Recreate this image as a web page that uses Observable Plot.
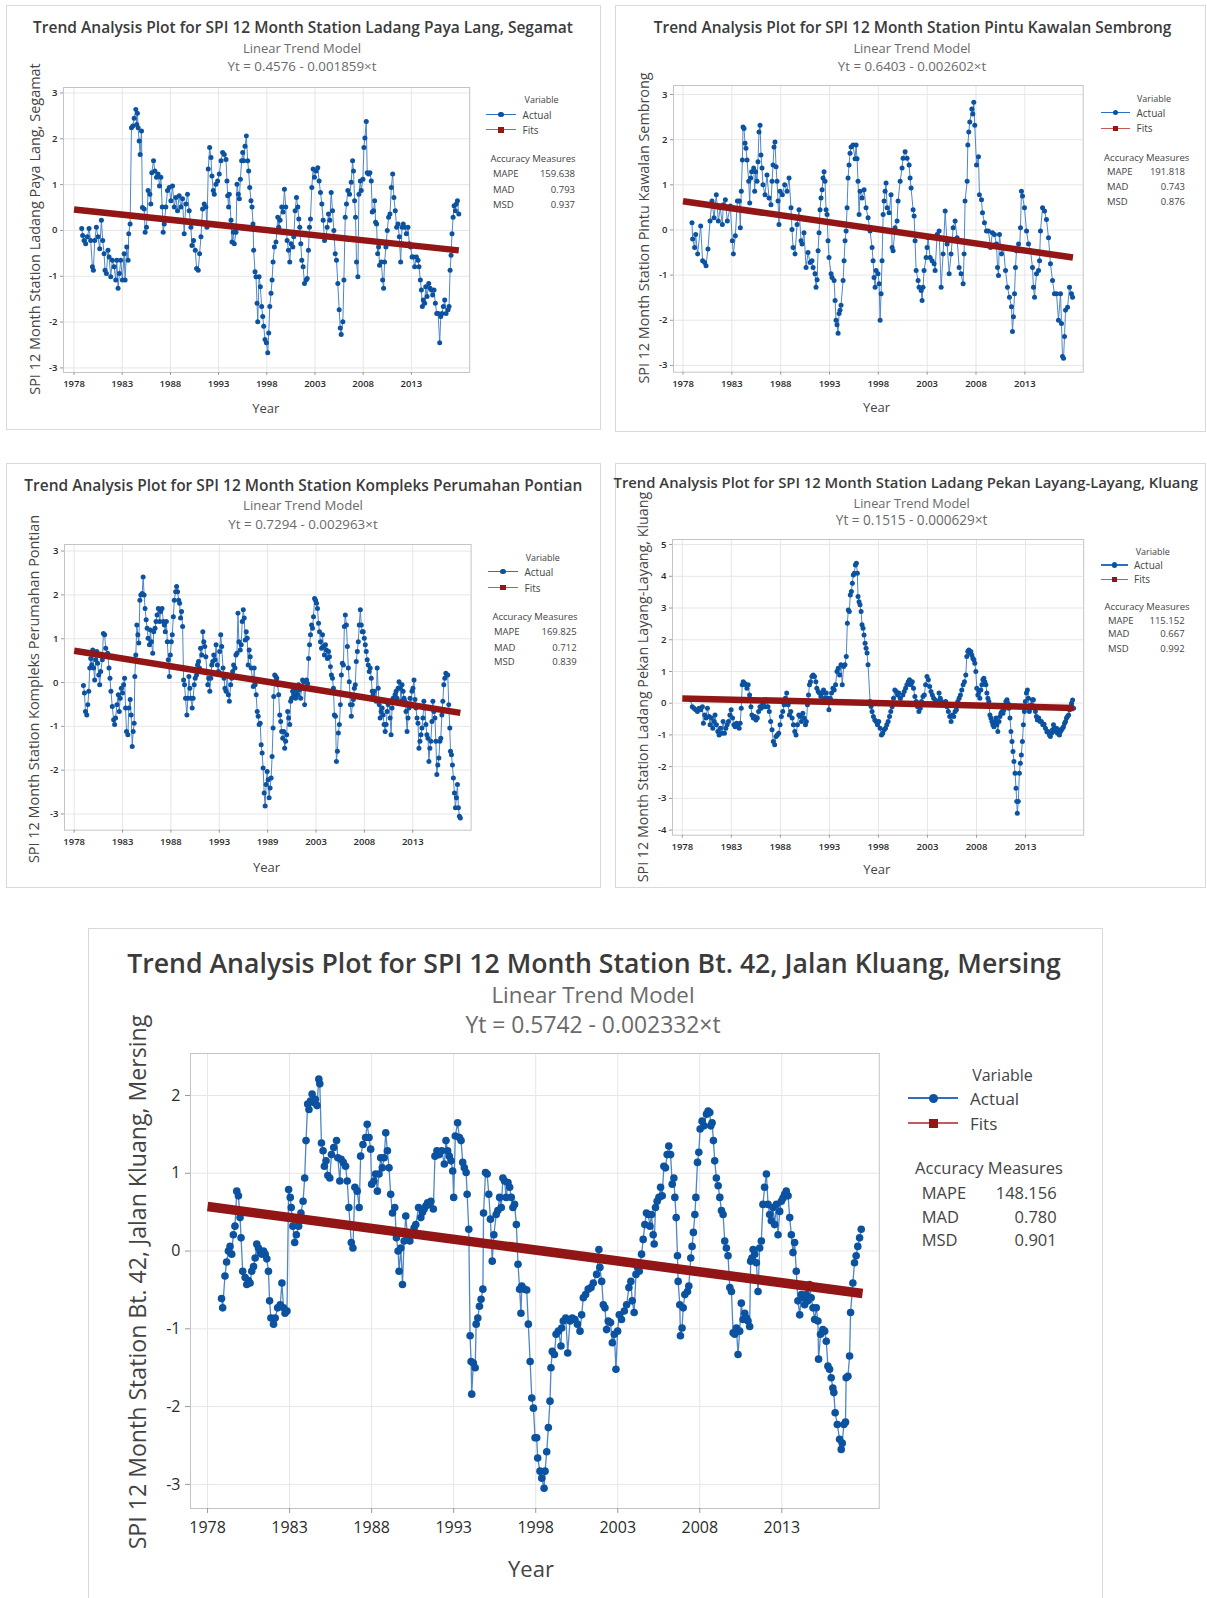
<!DOCTYPE html>
<html><head><meta charset="utf-8">
<script src="https://cdn.jsdelivr.net/npm/d3@7"></script>
<script src="https://cdn.jsdelivr.net/npm/@observablehq/plot@0.6"></script>
<style>
html,body{margin:0;padding:0;background:#fff;}
#page{position:relative;width:1207px;height:1598px;overflow:hidden;font-family:"Open Sans","Noto Sans",sans-serif;}
.t{position:absolute;white-space:nowrap;line-height:1;}
.b{position:absolute;}
</style></head>
<body><div id="page"></div>
<script>
// ---------------- DATA ----------------
const yearTicks = [1978, 1983, 1988, 1993, 1998, 2003, 2008, 2013];
const yearLabels = ["1978","1983","1988","1993","1998","2003","2008","2013"];
const yearLabelsPontian = ["1978","1983","1988","1993","1989","2003","2008","2013"];
const stations = ["Ladang Paya Lang, Segamat","Pintu Kawalan Sembrong","Kompleks Perumahan Pontian","Ladang Pekan Layang-Layang, Kluang","Bt. 42, Jalan Kluang, Mersing"];
const equations = ["Yt = 0.4576 - 0.001859×t","Yt = 0.6403 - 0.002602×t","Yt = 0.7294 - 0.002963×t","Yt = 0.1515 - 0.000629×t","Yt = 0.5742 - 0.002332×t"];
const mape = ["159.638","191.818","169.825","115.152","148.156"];
const mad = ["0.793","0.743","0.712","0.667","0.780"];
const msd = ["0.937","0.876","0.839","0.992","0.901"];
const fitYears = [1978.0, 2017.92];
const fitStart = [0.456, 0.638, 0.726, 0.151, 0.572];
const fitEnd = [-0.435, -0.609, -0.693, -0.150, -0.545];

const payaLang = [[1978.80,0.04],[1978.90,-0.11],[1979.04,-0.22],[1979.21,-0.29],[1979.39,-0.14],[1979.56,0.04],[1979.73,-0.22],[1979.91,-0.79],[1980.01,-0.87],[1980.15,-0.22],[1980.32,0.07],[1980.49,-0.14],[1980.67,-0.40],[1980.84,0.22],[1980.98,-0.22],[1981.12,-0.51],[1981.22,-0.87],[1981.36,-0.94],[1981.53,-0.43],[1981.64,-0.58],[1981.81,-1.01],[1981.98,-0.65],[1982.16,-0.79],[1982.33,-1.08],[1982.44,-0.65],[1982.57,-1.26],[1982.71,-0.94],[1982.85,-0.65],[1983.02,-1.08],[1983.20,-0.51],[1983.30,-1.08],[1983.47,-0.36],[1983.61,-0.65],[1983.68,-0.07],[1983.82,0.14],[1983.96,2.24],[1984.10,2.28],[1984.24,2.45],[1984.41,2.64],[1984.51,2.31],[1984.58,2.56],[1984.65,2.24],[1984.76,1.95],[1984.86,1.66],[1985.00,2.17],[1985.10,0.50],[1985.28,0.47],[1985.38,-0.04],[1985.52,0.07],[1985.69,0.87],[1985.87,0.79],[1985.97,0.58],[1986.07,1.26],[1986.25,1.52],[1986.39,1.30],[1986.56,1.16],[1986.73,1.23],[1986.87,0.97],[1987.01,1.16],[1987.15,0.51],[1987.25,-0.04],[1987.36,0.14],[1987.53,0.51],[1987.70,0.87],[1987.88,0.94],[1988.05,0.65],[1988.22,0.97],[1988.40,0.51],[1988.57,0.72],[1988.74,0.43],[1988.91,0.76],[1989.09,0.51],[1989.26,0.69],[1989.43,-0.07],[1989.61,0.58],[1989.78,0.79],[1989.95,0.43],[1990.13,0.07],[1990.23,-0.33],[1990.40,-0.22],[1990.58,-0.43],[1990.72,-0.83],[1990.89,-0.87],[1991.03,-0.51],[1991.17,-0.14],[1991.34,0.47],[1991.51,0.58],[1991.69,0.51],[1991.79,0.07],[1991.93,1.34],[1992.07,1.81],[1992.21,1.59],[1992.31,1.19],[1992.45,0.87],[1992.55,0.79],[1992.73,1.01],[1992.90,1.08],[1993.07,1.23],[1993.25,1.52],[1993.42,1.70],[1993.59,1.66],[1993.77,1.55],[1993.87,1.08],[1993.94,0.76],[1994.04,0.51],[1994.11,0.79],[1994.29,0.22],[1994.39,-0.25],[1994.53,-0.04],[1994.63,-0.29],[1994.81,-0.04],[1994.91,1.01],[1995.05,0.79],[1995.15,0.69],[1995.26,1.12],[1995.39,1.52],[1995.50,1.70],[1995.60,1.52],[1995.74,1.84],[1995.88,2.06],[1996.02,1.52],[1996.12,1.30],[1996.23,0.94],[1996.36,0.65],[1996.47,0.51],[1996.57,0.14],[1996.64,-0.43],[1996.78,-0.90],[1996.88,-1.01],[1996.99,-1.59],[1997.06,-1.99],[1997.20,-1.01],[1997.33,-1.23],[1997.47,-1.66],[1997.58,-1.88],[1997.68,-2.09],[1997.82,-2.38],[1997.96,-2.45],[1998.10,-2.67],[1998.20,-2.24],[1998.31,-1.66],[1998.44,-1.37],[1998.55,-1.08],[1998.65,-0.69],[1998.79,-0.36],[1998.96,-0.25],[1999.14,0.29],[1999.24,0.07],[1999.38,0.22],[1999.55,0.51],[1999.69,0.40],[1999.83,0.90],[1999.97,0.51],[2000.11,-0.22],[2000.25,-0.43],[2000.38,-0.69],[2000.52,-0.29],[2000.70,-0.36],[2000.80,-0.14],[2000.94,0.43],[2001.08,0.72],[2001.22,0.51],[2001.32,0.25],[2001.42,0.07],[2001.53,-0.29],[2001.63,-0.65],[2001.77,-0.79],[2001.91,-1.16],[2002.08,-1.08],[2002.19,-1.05],[2002.32,-0.43],[2002.43,0.07],[2002.53,0.25],[2002.67,0.94],[2002.81,1.34],[2002.95,1.16],[2003.12,1.30],[2003.29,1.37],[2003.43,1.08],[2003.57,0.83],[2003.71,0.58],[2003.85,0.22],[2003.99,-0.22],[2004.16,-0.14],[2004.26,0.07],[2004.40,0.36],[2004.54,0.22],[2004.68,0.83],[2004.82,0.43],[2004.96,0.00],[2005.10,-0.51],[2005.23,-0.65],[2005.37,-1.16],[2005.51,-1.73],[2005.62,-2.13],[2005.72,-2.27],[2005.89,-1.99],[2006.00,-1.08],[2006.14,0.29],[2006.27,0.58],[2006.41,0.87],[2006.59,0.79],[2006.76,1.05],[2006.90,1.52],[2007.00,1.30],[2007.11,0.65],[2007.21,0.29],[2007.31,-0.69],[2007.45,-1.01],[2007.56,0.79],[2007.70,1.08],[2007.80,0.87],[2007.97,1.12],[2008.08,1.81],[2008.18,2.02],[2008.32,2.38],[2008.42,1.26],[2008.56,1.23],[2008.70,1.26],[2008.84,1.08],[2008.94,0.40],[2009.08,0.43],[2009.19,0.65],[2009.29,0.18],[2009.39,0.14],[2009.50,-0.51],[2009.60,-0.36],[2009.70,-0.76],[2009.88,-0.69],[2010.02,-1.08],[2010.12,-1.26],[2010.22,-0.69],[2010.36,-0.36],[2010.50,0.00],[2010.64,0.29],[2010.78,0.36],[2010.92,0.94],[2011.06,1.23],[2011.19,0.72],[2011.33,0.43],[2011.47,0.07],[2011.61,0.14],[2011.75,-0.14],[2011.89,-0.69],[2012.03,0.07],[2012.16,0.14],[2012.30,0.07],[2012.48,-0.07],[2012.65,0.07],[2012.79,-0.29],[2012.93,-0.36],[2013.07,-0.58],[2013.20,-0.58],[2013.34,-0.79],[2013.52,-0.58],[2013.69,-0.65],[2013.79,-0.79],[2013.93,-1.08],[2014.04,-1.30],[2014.14,-1.66],[2014.24,-1.52],[2014.38,-1.59],[2014.49,-1.23],[2014.63,-1.44],[2014.80,-1.16],[2014.94,-1.26],[2015.08,-1.30],[2015.21,-1.41],[2015.35,-1.30],[2015.49,-1.59],[2015.63,-1.81],[2015.77,-1.81],[2015.94,-2.45],[2016.05,-1.88],[2016.18,-1.81],[2016.32,-1.66],[2016.46,-1.52],[2016.60,-1.81],[2016.81,-1.73],[2016.91,-1.66],[2017.02,-0.87],[2017.12,-0.54],[2017.22,-0.07],[2017.33,0.29],[2017.43,0.54],[2017.57,0.43],[2017.67,0.58],[2017.78,0.65],[2017.92,0.36]];

const pintuKawalan = [[1978.92,0.16],[1978.99,-0.20],[1979.19,-0.39],[1979.30,-0.10],[1979.50,-0.53],[1979.81,0.09],[1980.01,-0.68],[1980.22,-0.72],[1980.36,-0.79],[1980.56,-0.42],[1980.77,0.20],[1980.97,0.64],[1981.18,0.27],[1981.41,0.78],[1981.62,0.20],[1981.82,0.49],[1982.03,0.12],[1982.13,0.56],[1982.34,0.67],[1982.54,0.20],[1982.85,0.53],[1983.05,-0.24],[1983.16,-0.53],[1983.36,-0.13],[1983.57,0.64],[1983.77,0.64],[1983.87,0.05],[1983.97,0.86],[1984.08,1.55],[1984.15,2.28],[1984.25,2.25],[1984.35,1.92],[1984.45,1.81],[1984.56,1.55],[1984.73,1.08],[1984.83,0.60],[1984.93,1.15],[1985.03,1.29],[1985.24,1.37],[1985.34,0.86],[1985.44,1.29],[1985.58,1.08],[1985.68,1.51],[1985.78,2.17],[1985.89,2.32],[1985.99,1.66],[1986.09,1.37],[1986.19,1.00],[1986.40,0.78],[1986.60,1.22],[1986.81,0.71],[1987.01,0.56],[1987.12,1.08],[1987.22,1.44],[1987.32,1.84],[1987.42,1.95],[1987.53,1.40],[1987.63,1.08],[1987.73,0.64],[1987.83,0.12],[1987.94,0.86],[1988.17,0.78],[1988.41,1.00],[1988.65,0.86],[1988.86,1.15],[1989.06,0.49],[1989.16,0.01],[1989.27,-0.39],[1989.47,-0.53],[1989.68,0.12],[1989.88,0.45],[1990.09,-0.24],[1990.19,-0.31],[1990.39,-0.06],[1990.60,-0.83],[1990.80,-0.50],[1991.01,-0.72],[1991.21,-0.68],[1991.32,-0.83],[1991.52,-0.97],[1991.62,-1.27],[1991.73,-1.10],[1991.83,-0.46],[1991.93,-0.06],[1992.03,0.45],[1992.13,0.71],[1992.24,0.89],[1992.34,1.15],[1992.44,1.29],[1992.54,1.08],[1992.65,0.45],[1992.75,0.34],[1992.85,-0.24],[1992.95,-0.61],[1993.16,-0.97],[1993.26,-1.05],[1993.47,-1.12],[1993.57,-1.56],[1993.67,-2.00],[1993.77,-2.10],[1993.88,-2.29],[1993.98,-1.85],[1994.08,-1.78],[1994.18,-1.67],[1994.39,-1.12],[1994.49,-0.68],[1994.59,-0.24],[1994.70,-0.02],[1994.80,0.49],[1994.90,1.15],[1995.00,1.44],[1995.10,1.70],[1995.21,1.84],[1995.41,1.88],[1995.62,1.58],[1995.72,1.88],[1995.82,1.58],[1995.92,1.08],[1996.03,0.34],[1996.13,0.86],[1996.33,0.71],[1996.54,0.89],[1996.74,0.49],[1996.95,0.27],[1997.15,-0.02],[1997.36,-0.39],[1997.46,-0.68],[1997.56,-1.05],[1997.67,-1.27],[1997.77,-0.90],[1997.97,-0.97],[1998.08,-1.19],[1998.18,-2.00],[1998.28,-1.41],[1998.38,-0.68],[1998.49,0.34],[1998.59,0.64],[1998.69,0.86],[1998.79,1.04],[1998.90,0.49],[1999.10,0.38],[1999.30,0.78],[1999.41,-0.39],[1999.51,-0.46],[1999.71,0.05],[1999.92,0.20],[2000.02,0.64],[2000.23,1.08],[2000.43,1.37],[2000.53,1.59],[2000.74,1.73],[2000.94,1.59],[2001.15,1.44],[2001.25,1.15],[2001.35,0.93],[2001.56,0.45],[2001.66,0.31],[2001.76,-0.24],[2001.87,-0.90],[2002.07,-1.12],[2002.17,-1.27],[2002.38,-1.34],[2002.48,-1.56],[2002.58,-1.27],[2002.68,-0.90],[2002.89,-0.61],[2002.99,-0.39],[2003.09,-0.17],[2003.30,-0.61],[2003.50,-0.68],[2003.71,-0.75],[2003.81,-0.90],[2004.02,-0.10],[2004.22,-0.02],[2004.43,-1.27],[2004.63,-0.53],[2004.84,0.42],[2005.04,-0.31],[2005.25,-0.97],[2005.45,-0.53],[2005.66,0.05],[2005.86,0.20],[2006.06,-0.17],[2006.27,-0.83],[2006.47,-0.97],[2006.68,-1.19],[2006.78,-0.53],[2006.88,0.64],[2007.09,1.08],[2007.16,1.88],[2007.26,2.17],[2007.36,2.39],[2007.57,2.68],[2007.67,2.57],[2007.77,2.83],[2007.87,2.32],[2008.05,1.44],[2008.25,1.62],[2008.35,0.78],[2008.56,0.67],[2008.66,0.38],[2008.86,0.16],[2009.07,-0.02],[2009.27,-0.02],[2009.48,-0.39],[2009.68,-0.06],[2009.89,-0.10],[2010.09,-0.31],[2010.20,-0.83],[2010.30,-1.01],[2010.40,-0.10],[2010.61,-0.53],[2010.81,-0.39],[2011.02,-0.90],[2011.22,-1.27],[2011.42,-1.49],[2011.63,-1.70],[2011.73,-2.25],[2011.83,-1.92],[2011.94,-1.41],[2012.04,-0.83],[2012.14,-0.46],[2012.35,-0.31],[2012.45,-0.46],[2012.55,0.05],[2012.65,0.86],[2012.76,0.75],[2012.96,0.49],[2013.17,-0.02],[2013.37,-0.31],[2013.58,-0.46],[2013.78,-0.83],[2013.88,-1.27],[2013.99,-1.49],[2014.19,-0.97],[2014.40,-0.90],[2014.50,-0.68],[2014.60,-0.02],[2014.81,0.49],[2015.01,0.42],[2015.21,0.23],[2015.42,-0.17],[2015.62,-0.75],[2015.83,-1.12],[2016.03,-1.41],[2016.24,-1.41],[2016.44,-2.00],[2016.65,-1.41],[2016.75,-2.07],[2016.85,-2.80],[2016.96,-2.84],[2017.06,-2.36],[2017.16,-1.78],[2017.37,-1.71],[2017.57,-1.27],[2017.77,-1.41],[2017.88,-1.49]];

const pontian = [[1978.96,-0.07],[1979.06,-0.24],[1979.17,-0.66],[1979.30,-0.74],[1979.41,-0.51],[1979.51,-0.20],[1979.61,0.33],[1979.71,0.55],[1979.82,0.40],[1979.92,0.74],[1980.02,0.33],[1980.12,0.06],[1980.23,0.52],[1980.33,0.71],[1980.43,0.44],[1980.54,0.17],[1980.64,-0.05],[1980.74,0.25],[1980.91,0.52],[1981.02,1.12],[1981.15,1.09],[1981.26,0.78],[1981.46,0.67],[1981.60,0.33],[1981.70,0.10],[1981.80,-0.20],[1981.94,-0.55],[1982.08,-0.85],[1982.18,-0.96],[1982.28,-0.81],[1982.42,-0.51],[1982.56,-0.28],[1982.66,-0.66],[1982.76,-0.36],[1982.87,-0.13],[1983.00,-0.24],[1983.11,-0.05],[1983.21,0.10],[1983.31,-0.58],[1983.41,-1.12],[1983.55,-1.19],[1983.65,-0.58],[1983.79,-0.39],[1983.89,-0.74],[1984.00,-1.46],[1984.10,-1.12],[1984.20,-0.93],[1984.27,0.14],[1984.37,0.63],[1984.48,1.31],[1984.58,1.09],[1984.68,0.90],[1984.79,1.88],[1984.89,2.00],[1985.03,2.03],[1985.13,2.41],[1985.23,2.00],[1985.33,1.69],[1985.44,1.43],[1985.54,1.24],[1985.64,1.01],[1985.78,0.86],[1985.88,1.20],[1985.98,0.93],[1986.12,0.67],[1986.22,1.16],[1986.36,1.24],[1986.46,1.39],[1986.57,1.54],[1986.70,1.69],[1986.84,1.39],[1986.94,1.62],[1987.08,1.69],[1987.22,1.39],[1987.32,1.31],[1987.42,1.16],[1987.53,1.39],[1987.63,0.93],[1987.73,0.52],[1987.84,0.14],[1987.94,0.63],[1988.04,0.93],[1988.14,1.09],[1988.25,1.50],[1988.35,1.88],[1988.49,2.07],[1988.59,2.19],[1988.69,2.07],[1988.80,1.88],[1988.90,1.81],[1989.00,1.47],[1989.10,1.62],[1989.21,1.28],[1989.31,0.06],[1989.41,-0.05],[1989.51,-0.36],[1989.65,-0.74],[1989.75,-0.36],[1989.86,0.14],[1989.96,-0.13],[1990.06,-0.36],[1990.20,-0.58],[1990.30,-0.36],[1990.41,-0.05],[1990.51,0.10],[1990.65,0.17],[1990.75,0.40],[1990.85,0.48],[1990.95,0.33],[1991.06,0.78],[1991.19,0.63],[1991.30,1.16],[1991.40,0.93],[1991.50,0.82],[1991.61,0.59],[1991.71,0.25],[1991.81,-0.05],[1991.91,0.10],[1992.02,-0.20],[1992.12,0.10],[1992.22,0.40],[1992.32,0.48],[1992.43,0.63],[1992.56,0.52],[1992.67,0.86],[1992.80,0.40],[1992.91,0.25],[1993.04,0.71],[1993.15,1.09],[1993.25,0.82],[1993.39,0.33],[1993.49,0.10],[1993.59,-0.13],[1993.70,-0.20],[1993.83,0.17],[1993.94,-0.28],[1994.04,-0.43],[1994.18,-0.05],[1994.28,0.10],[1994.38,0.25],[1994.48,0.40],[1994.62,0.33],[1994.72,0.63],[1994.83,0.67],[1994.93,1.58],[1995.03,0.93],[1995.17,0.74],[1995.27,0.86],[1995.37,1.39],[1995.48,1.66],[1995.58,1.47],[1995.68,0.97],[1995.79,1.16],[1995.89,1.01],[1995.99,0.40],[1996.09,0.74],[1996.20,0.59],[1996.30,0.33],[1996.40,0.10],[1996.51,-0.09],[1996.61,0.33],[1996.71,-0.05],[1996.81,-0.28],[1996.92,-0.66],[1997.02,-0.77],[1997.12,-0.96],[1997.23,-0.93],[1997.33,-1.42],[1997.43,-1.61],[1997.53,-1.95],[1997.64,-2.52],[1997.74,-2.82],[1997.84,-2.33],[1997.95,-2.03],[1998.05,-2.22],[1998.15,-2.63],[1998.25,-2.41],[1998.36,-2.18],[1998.46,-1.69],[1998.56,-1.04],[1998.63,-0.32],[1998.73,0.17],[1998.84,0.14],[1998.94,0.10],[1999.04,-0.05],[1999.14,-0.28],[1999.25,-0.74],[1999.35,-0.89],[1999.45,-1.12],[1999.56,-1.27],[1999.66,-1.12],[1999.76,-1.50],[1999.86,-1.34],[1999.97,-1.19],[2000.07,-0.66],[2000.17,-0.81],[2000.28,-0.96],[2000.38,-0.43],[2000.48,-0.36],[2000.58,-0.20],[2000.69,-0.28],[2000.79,-0.13],[2000.89,-0.36],[2001.00,-0.20],[2001.10,-0.28],[2001.20,-0.05],[2001.30,-0.17],[2001.41,-0.36],[2001.51,-0.13],[2001.61,0.06],[2001.72,0.02],[2001.82,-0.51],[2001.92,-0.13],[2002.02,0.06],[2002.13,-0.02],[2002.23,0.55],[2002.33,0.86],[2002.43,1.09],[2002.54,1.31],[2002.64,1.24],[2002.74,1.50],[2002.85,1.92],[2002.95,1.88],[2003.05,1.81],[2003.15,1.69],[2003.26,1.35],[2003.36,1.16],[2003.46,0.93],[2003.57,0.78],[2003.67,1.09],[2003.77,0.82],[2003.87,0.63],[2003.98,0.86],[2004.08,0.74],[2004.18,0.55],[2004.29,0.71],[2004.39,0.59],[2004.49,0.36],[2004.59,0.17],[2004.70,0.10],[2004.80,-0.13],[2004.90,-0.74],[2005.01,-0.77],[2005.11,-1.80],[2005.21,-1.57],[2005.31,-1.15],[2005.42,-0.96],[2005.52,-0.51],[2005.62,0.17],[2005.72,0.44],[2005.83,0.40],[2005.93,1.28],[2006.03,1.54],[2006.14,1.31],[2006.24,0.82],[2006.34,0.33],[2006.44,0.02],[2006.55,-0.51],[2006.65,-0.77],[2006.75,-0.51],[2006.86,-0.39],[2006.96,-0.13],[2007.06,-0.05],[2007.16,0.48],[2007.27,0.71],[2007.37,0.93],[2007.47,1.31],[2007.58,1.66],[2007.68,1.31],[2007.78,1.16],[2007.88,1.16],[2007.99,1.01],[2008.09,0.86],[2008.19,0.71],[2008.29,0.52],[2008.40,0.40],[2008.50,0.25],[2008.60,0.33],[2008.71,0.10],[2008.81,-0.20],[2008.91,-0.28],[2009.01,-0.20],[2009.12,-0.36],[2009.22,-0.43],[2009.32,0.33],[2009.43,-0.13],[2009.53,-0.51],[2009.63,-0.81],[2009.73,-0.66],[2009.84,-0.58],[2009.94,-0.74],[2010.04,-0.96],[2010.15,-1.12],[2010.25,-0.96],[2010.35,-0.66],[2010.45,-0.51],[2010.56,-0.43],[2010.66,-0.81],[2010.76,-1.19],[2010.86,-0.58],[2010.97,-0.36],[2011.07,-0.36],[2011.17,-0.28],[2011.28,-0.20],[2011.38,-0.36],[2011.48,-0.13],[2011.58,0.02],[2011.69,-0.13],[2011.79,-0.43],[2011.89,-0.05],[2012.00,-0.20],[2012.10,-0.36],[2012.20,-0.43],[2012.30,-0.66],[2012.41,-1.12],[2012.51,-0.81],[2012.61,-0.58],[2012.72,-0.36],[2012.82,-0.51],[2012.92,-0.20],[2013.02,-0.13],[2013.13,0.06],[2013.23,-0.39],[2013.33,-0.58],[2013.44,-0.81],[2013.54,-0.93],[2013.64,-1.50],[2013.74,-1.34],[2013.85,-1.19],[2013.95,-1.04],[2014.05,-0.81],[2014.15,-0.43],[2014.26,-0.58],[2014.36,-0.96],[2014.46,-1.19],[2014.57,-1.27],[2014.67,-1.80],[2014.77,-1.50],[2014.87,-1.34],[2014.98,-0.89],[2015.08,-0.43],[2015.18,-0.66],[2015.29,-0.81],[2015.39,-1.34],[2015.49,-2.10],[2015.59,-1.88],[2015.70,-1.72],[2015.80,-1.34],[2015.90,-1.27],[2016.01,-0.74],[2016.11,-0.43],[2016.21,-0.05],[2016.31,0.10],[2016.42,0.21],[2016.52,0.17],[2016.62,0.17],[2016.72,-0.51],[2016.83,-1.04],[2016.90,-1.57],[2017.00,-1.65],[2017.10,-1.88],[2017.20,-2.18],[2017.31,-2.52],[2017.41,-2.86],[2017.51,-2.63],[2017.62,-2.33],[2017.72,-2.86],[2017.82,-3.05],[2017.92,-3.09]];

const layangLayang = [[1978.85,0.11],[1979.02,-0.11],[1979.19,-0.16],[1979.37,-0.21],[1979.54,-0.26],[1979.71,-0.16],[1979.88,-0.21],[1980.05,-0.11],[1980.15,-0.63],[1980.29,-0.37],[1980.42,-0.47],[1980.56,-0.16],[1980.73,-0.42],[1980.83,-0.68],[1980.97,-0.47],[1981.11,-0.79],[1981.24,-0.58],[1981.34,-0.37],[1981.48,-0.68],[1981.62,-0.89],[1981.75,-1.00],[1981.89,-0.79],[1982.03,-0.95],[1982.16,-0.58],[1982.30,-0.95],[1982.44,-0.79],[1982.57,-0.68],[1982.71,-0.58],[1982.85,-0.37],[1982.98,-0.21],[1983.12,-0.47],[1983.26,-0.68],[1983.39,-0.74],[1983.53,-0.63],[1983.67,-0.68],[1983.80,-0.79],[1983.90,-0.63],[1984.01,-0.16],[1984.11,0.58],[1984.21,0.68],[1984.35,0.63],[1984.48,0.58],[1984.59,0.47],[1984.72,0.58],[1984.86,0.26],[1985.00,-0.11],[1985.10,-0.37],[1985.24,-0.47],[1985.37,-0.42],[1985.51,-0.53],[1985.65,-0.47],[1985.78,-0.26],[1985.92,-0.11],[1986.05,-0.16],[1986.19,-0.05],[1986.33,0.05],[1986.46,-0.11],[1986.60,0.10],[1986.74,-0.11],[1986.87,-0.26],[1987.01,-0.58],[1987.15,-0.84],[1987.28,-1.21],[1987.42,-1.31],[1987.56,-1.05],[1987.69,-1.00],[1987.83,-0.95],[1987.97,-0.68],[1988.10,-0.42],[1988.24,-0.26],[1988.38,-0.05],[1988.51,0.16],[1988.65,0.32],[1988.79,-0.05],[1988.92,-0.37],[1989.06,-0.26],[1989.20,-0.47],[1989.33,-0.68],[1989.47,-0.89],[1989.60,-1.00],[1989.74,-0.68],[1989.88,-0.37],[1990.01,-0.42],[1990.15,-0.58],[1990.29,-0.32],[1990.42,-0.47],[1990.56,-0.68],[1990.66,-0.58],[1990.76,-0.05],[1990.87,0.26],[1990.97,0.58],[1991.07,0.68],[1991.21,0.84],[1991.34,0.89],[1991.48,0.84],[1991.62,0.68],[1991.72,0.47],[1991.86,0.37],[1991.99,0.32],[1992.13,0.21],[1992.27,0.32],[1992.40,0.42],[1992.54,0.16],[1992.68,0.32],[1992.81,0.16],[1992.95,-0.21],[1993.09,0.16],[1993.22,0.32],[1993.36,0.47],[1993.49,0.42],[1993.63,0.58],[1993.77,1.00],[1993.90,1.10],[1994.04,0.89],[1994.18,1.21],[1994.31,0.58],[1994.45,1.16],[1994.59,1.21],[1994.72,1.47],[1994.83,2.52],[1994.93,2.94],[1995.03,2.89],[1995.13,3.41],[1995.24,3.52],[1995.34,3.78],[1995.44,4.04],[1995.54,4.10],[1995.65,4.36],[1995.75,4.41],[1995.85,4.10],[1995.92,3.36],[1996.02,3.20],[1996.12,3.10],[1996.23,2.89],[1996.33,2.47],[1996.43,2.36],[1996.53,2.15],[1996.64,1.89],[1996.74,1.73],[1996.84,1.58],[1996.94,1.21],[1997.15,0.05],[1997.25,-0.10],[1997.35,-0.26],[1997.49,-0.42],[1997.63,-0.53],[1997.76,-0.58],[1997.90,-0.68],[1998.03,-0.58],[1998.17,-0.79],[1998.31,-1.00],[1998.44,-0.95],[1998.58,-0.84],[1998.72,-0.79],[1998.85,-0.68],[1998.99,-0.58],[1999.13,-0.42],[1999.26,-0.26],[1999.40,-0.11],[1999.54,0.16],[1999.67,0.42],[1999.81,0.37],[1999.95,0.26],[2000.08,0.32],[2000.22,0.16],[2000.36,0.00],[2000.49,0.26],[2000.63,0.37],[2000.77,0.47],[2000.90,0.58],[2001.04,0.68],[2001.17,0.74],[2001.31,0.58],[2001.45,0.68],[2001.58,0.47],[2001.72,0.21],[2001.86,0.05],[2001.99,-0.11],[2002.13,-0.26],[2002.27,-0.16],[2002.40,0.05],[2002.54,0.21],[2002.68,0.26],[2002.81,0.58],[2002.95,0.84],[2003.09,0.74],[2003.22,0.53],[2003.36,0.37],[2003.50,0.26],[2003.63,0.16],[2003.77,0.11],[2003.90,-0.05],[2004.04,0.05],[2004.18,0.32],[2004.31,0.16],[2004.45,0.05],[2004.59,0.00],[2004.72,-0.05],[2004.86,0.05],[2005.00,-0.11],[2005.13,-0.26],[2005.27,-0.42],[2005.41,-0.58],[2005.54,-0.37],[2005.68,-0.42],[2005.82,-0.26],[2005.95,-0.21],[2006.09,0.05],[2006.23,0.16],[2006.36,0.26],[2006.50,0.42],[2006.64,0.58],[2006.77,0.68],[2006.91,0.89],[2007.01,1.47],[2007.11,1.63],[2007.22,1.68],[2007.32,1.58],[2007.42,1.63],[2007.52,1.52],[2007.63,1.42],[2007.73,1.37],[2007.83,1.26],[2007.93,1.00],[2008.03,0.47],[2008.14,0.26],[2008.24,0.37],[2008.34,0.16],[2008.44,0.42],[2008.55,0.58],[2008.65,0.74],[2008.75,0.79],[2008.85,0.68],[2008.96,0.58],[2009.06,0.32],[2009.16,0.16],[2009.26,0.05],[2009.37,-0.37],[2009.47,-0.47],[2009.57,-0.58],[2009.67,-0.68],[2009.77,-0.74],[2009.88,-0.58],[2009.98,-0.47],[2010.08,-0.68],[2010.18,-0.89],[2010.29,-0.58],[2010.39,-0.42],[2010.49,-0.32],[2010.59,-0.26],[2010.70,-0.32],[2010.80,-0.21],[2010.90,-0.11],[2011.00,0.05],[2011.11,0.11],[2011.21,0.00],[2011.31,-0.16],[2011.41,-0.47],[2011.52,-0.89],[2011.62,-1.21],[2011.72,-1.52],[2011.82,-1.84],[2011.93,-2.21],[2012.03,-2.68],[2012.10,-3.10],[2012.16,-3.47],[2012.27,-3.10],[2012.37,-2.21],[2012.47,-1.89],[2012.57,-1.63],[2012.68,-1.21],[2012.78,-0.68],[2012.88,-0.26],[2012.98,0.05],[2013.09,0.32],[2013.19,0.42],[2013.29,0.16],[2013.39,-0.26],[2013.50,-0.16],[2013.60,-0.05],[2013.70,0.11],[2013.80,0.11],[2013.90,-0.11],[2014.01,-0.26],[2014.11,-0.42],[2014.21,-0.53],[2014.35,-0.47],[2014.49,-0.58],[2014.62,-0.58],[2014.76,-0.68],[2014.89,-0.66],[2015.03,-0.79],[2015.17,-0.91],[2015.30,-0.89],[2015.44,-1.00],[2015.54,-1.05],[2015.65,-0.95],[2015.75,-0.84],[2015.85,-0.68],[2015.95,-0.79],[2016.06,-0.89],[2016.16,-0.79],[2016.26,-0.95],[2016.36,-0.84],[2016.46,-1.00],[2016.57,-0.89],[2016.67,-0.84],[2016.77,-0.79],[2016.87,-0.74],[2016.98,-0.63],[2017.08,-0.58],[2017.18,-0.47],[2017.28,-0.42],[2017.39,-0.37],[2017.49,-0.21],[2017.59,-0.11],[2017.69,0.00],[2017.80,0.10],[2017.90,-0.16]];

const mersing = [[1978.85,-0.61],[1978.92,-0.73],[1979.06,-0.32],[1979.16,-0.14],[1979.27,0.00],[1979.37,0.06],[1979.47,-0.04],[1979.57,0.21],[1979.67,0.32],[1979.78,0.77],[1979.88,0.71],[1979.98,0.43],[1980.04,0.17],[1980.14,-0.26],[1980.29,-0.34],[1980.39,-0.43],[1980.49,-0.38],[1980.59,-0.41],[1980.69,-0.26],[1980.80,-0.20],[1980.90,-0.09],[1981.00,0.09],[1981.10,0.04],[1981.20,-0.02],[1981.31,-0.04],[1981.41,0.00],[1981.51,-0.04],[1981.61,-0.10],[1981.71,-0.26],[1981.78,-0.64],[1981.86,-0.86],[1982.02,-0.94],[1982.12,-0.86],[1982.27,-0.73],[1982.43,-0.69],[1982.53,-0.41],[1982.63,-0.73],[1982.72,-0.80],[1982.84,-0.77],[1982.94,0.79],[1983.04,0.69],[1983.10,0.56],[1983.20,0.32],[1983.31,0.11],[1983.41,0.21],[1983.55,0.32],[1983.69,0.49],[1983.82,0.64],[1983.92,0.94],[1984.00,1.42],[1984.10,1.89],[1984.18,1.82],[1984.27,1.93],[1984.37,2.02],[1984.47,1.91],[1984.57,1.95],[1984.67,1.87],[1984.78,2.21],[1984.84,2.15],[1984.94,1.39],[1985.04,1.29],[1985.12,1.09],[1985.22,1.16],[1985.33,0.97],[1985.45,0.94],[1985.55,1.24],[1985.69,1.33],[1985.86,1.42],[1985.94,1.20],[1986.06,0.90],[1986.14,1.18],[1986.27,1.14],[1986.41,1.09],[1986.51,0.90],[1986.61,0.56],[1986.76,0.11],[1986.86,0.04],[1986.98,0.82],[1987.12,0.77],[1987.24,0.56],[1987.33,1.22],[1987.47,1.37],[1987.63,1.46],[1987.73,1.63],[1987.84,1.46],[1987.94,1.31],[1988.00,0.86],[1988.14,0.90],[1988.24,0.99],[1988.35,0.77],[1988.45,0.99],[1988.55,1.20],[1988.65,1.07],[1988.76,1.20],[1988.86,1.52],[1988.96,1.29],[1989.06,1.07],[1989.16,0.73],[1989.27,0.49],[1989.41,0.56],[1989.51,0.17],[1989.61,0.00],[1989.67,-0.26],[1989.78,0.04],[1989.88,-0.43],[1989.98,0.13],[1990.08,0.45],[1990.18,0.21],[1990.33,0.13],[1990.49,0.24],[1990.59,0.30],[1990.69,0.34],[1990.86,0.56],[1991.00,0.43],[1991.10,0.50],[1991.20,0.54],[1991.30,0.58],[1991.41,0.62],[1991.51,0.60],[1991.61,0.64],[1991.76,0.54],[1991.86,1.22],[1991.98,1.29],[1992.12,1.24],[1992.27,1.29],[1992.43,1.12],[1992.53,1.42],[1992.63,1.29],[1992.73,1.22],[1992.84,1.16],[1992.94,1.03],[1993.00,0.69],[1993.10,1.48],[1993.24,1.65],[1993.35,1.46],[1993.45,1.42],[1993.55,1.14],[1993.65,1.07],[1993.76,1.01],[1993.82,0.73],[1993.92,0.28],[1994.00,-1.09],[1994.06,-1.42],[1994.10,-1.84],[1994.20,-1.44],[1994.31,-1.50],[1994.37,-0.94],[1994.47,-0.86],[1994.57,-0.71],[1994.67,-0.62],[1994.78,-0.49],[1994.82,0.49],[1994.94,1.01],[1995.04,0.99],[1995.14,0.73],[1995.24,0.41],[1995.35,-0.13],[1995.45,0.21],[1995.59,0.47],[1995.69,0.52],[1995.80,0.69],[1995.90,0.56],[1996.00,0.94],[1996.10,0.90],[1996.20,0.69],[1996.31,0.88],[1996.41,0.82],[1996.51,0.69],[1996.61,0.56],[1996.71,0.60],[1996.82,0.34],[1996.92,-0.17],[1997.02,-0.49],[1997.10,-0.80],[1997.15,-0.45],[1997.31,-0.49],[1997.45,-0.50],[1997.55,-0.94],[1997.66,-1.42],[1997.76,-1.89],[1997.86,-2.02],[1997.96,-2.40],[1998.06,-2.40],[1998.12,-2.66],[1998.26,-2.83],[1998.37,-2.92],[1998.51,-3.05],[1998.57,-2.83],[1998.67,-2.58],[1998.77,-2.27],[1998.87,-1.93],[1998.93,-1.50],[1999.01,-1.29],[1999.14,-1.33],[1999.24,-1.07],[1999.38,-1.03],[1999.54,-1.22],[1999.58,-0.99],[1999.68,-0.90],[1999.83,-0.86],[1999.95,-1.31],[2000.09,-0.90],[2000.23,-0.86],[2000.39,-0.88],[2000.54,-0.94],[2000.70,-1.03],[2000.80,-0.82],[2000.90,-0.60],[2001.04,-0.56],[2001.20,-0.49],[2001.37,-0.47],[2001.51,-0.41],[2001.71,-0.30],[2001.85,0.02],[2001.91,-0.21],[2002.02,-0.39],[2002.12,-0.69],[2002.22,-0.73],[2002.32,-1.01],[2002.42,-0.90],[2002.56,-0.92],[2002.67,-1.18],[2002.79,-1.07],[2002.89,-1.52],[2002.99,-1.03],[2003.09,-0.82],[2003.23,-0.88],[2003.40,-0.77],[2003.54,-0.69],[2003.68,-0.47],[2003.80,-0.39],[2003.88,-0.64],[2004.00,-0.79],[2004.11,-0.30],[2004.21,-0.21],[2004.31,-0.26],[2004.45,-0.04],[2004.55,0.15],[2004.65,0.34],[2004.75,0.49],[2004.86,0.47],[2004.96,0.32],[2005.06,0.47],[2005.16,0.21],[2005.22,0.09],[2005.30,0.56],[2005.40,0.64],[2005.51,0.69],[2005.61,0.82],[2005.71,0.71],[2005.81,1.09],[2005.91,1.07],[2006.01,1.24],[2006.11,1.35],[2006.22,1.24],[2006.32,0.86],[2006.42,0.94],[2006.48,0.69],[2006.56,0.43],[2006.64,-0.06],[2006.68,-0.39],[2006.78,-0.69],[2006.82,-1.09],[2006.92,-0.99],[2006.99,-0.73],[2007.09,-0.56],[2007.25,-0.52],[2007.33,-0.45],[2007.45,-0.09],[2007.53,0.06],[2007.61,0.24],[2007.70,0.47],[2007.76,0.69],[2007.86,1.14],[2007.94,1.27],[2008.02,1.57],[2008.14,1.67],[2008.26,1.61],[2008.41,1.76],[2008.51,1.80],[2008.61,1.78],[2008.67,1.61],[2008.75,1.65],[2008.83,1.42],[2008.91,1.16],[2009.01,0.94],[2009.12,0.84],[2009.22,0.69],[2009.32,0.52],[2009.42,0.47],[2009.52,0.13],[2009.62,0.04],[2009.72,-0.06],[2009.83,-0.47],[2009.93,-0.52],[2010.03,-1.05],[2010.13,-1.07],[2010.23,-0.99],[2010.33,-1.33],[2010.43,-1.03],[2010.53,-0.67],[2010.64,-0.88],[2010.74,-0.80],[2010.84,-0.86],[2010.94,-0.90],[2011.04,-0.97],[2011.10,-0.13],[2011.18,-0.09],[2011.25,0.02],[2011.35,-0.04],[2011.45,-0.15],[2011.55,-0.52],[2011.65,0.04],[2011.75,0.13],[2011.85,0.60],[2011.95,0.82],[2012.06,0.99],[2012.16,0.60],[2012.26,0.47],[2012.36,0.39],[2012.46,0.56],[2012.56,0.34],[2012.67,0.60],[2012.77,0.21],[2012.87,0.51],[2012.97,0.64],[2013.07,0.68],[2013.17,0.73],[2013.27,0.77],[2013.38,0.71],[2013.48,0.43],[2013.58,0.21],[2013.68,-0.02],[2013.78,0.11],[2013.88,-0.26],[2013.98,-0.64],[2014.09,-0.82],[2014.19,-0.56],[2014.29,-0.60],[2014.39,-0.69],[2014.49,-0.56],[2014.59,-0.64],[2014.69,-0.43],[2014.79,-0.60],[2014.90,-0.73],[2015.00,-0.88],[2015.10,-0.73],[2015.20,-0.90],[2015.24,-1.39],[2015.36,-1.07],[2015.50,-1.01],[2015.61,-1.03],[2015.71,-1.16],[2015.81,-1.48],[2015.91,-1.52],[2016.01,-1.63],[2016.11,-1.76],[2016.17,-1.82],[2016.25,-2.08],[2016.38,-2.23],[2016.52,-2.42],[2016.62,-2.55],[2016.68,-2.47],[2016.78,-2.23],[2016.88,-2.20],[2016.92,-1.63],[2017.03,-1.61],[2017.13,-1.35],[2017.19,-0.79],[2017.33,-0.41],[2017.43,-0.15],[2017.53,-0.06],[2017.63,0.06],[2017.74,0.17],[2017.84,0.28]];

const seriesList = [payaLang, pintuKawalan, pontian, layangLayang, mersing];
const yTickSets = [[-3,-2,-1,0,1,2,3],[-3,-2,-1,0,1,2,3],[-3,-2,-1,0,1,2,3],[-4,-3,-2,-1,0,1,2,3,4,5],[-3,-2,-1,0,1,2]];

// ---------------- LAYOUT ----------------
const FONT = '"Open Sans","Noto Sans",sans-serif';
const BLUE_DOT = "#0b52a1", BLUE_LINE = "#4f86c8", RED = "#931616";
const small = {tick:9.5, tickW:600, ml:32, mb:26, tickSize:3, padX:5, padY:3, r:2.5, fw:6.5, lineW:1,
  leg:{varS:9, actS:10, accS:9.5, rowS:9.5, dot:5.2, sq:5.2, lw:1.6}};
const big = {tick:16, tickW:400, ml:48, mb:44, tickSize:5, padX:8, padY:5, r:3.8, fw:9.5, lineW:1.3,
  leg:{varS:16, actS:17, accS:16.5, rowS:16.5, dot:9, sq:9, lw:2.2}};

const layouts = [
  {st:small, box:[6,5,601,430], frame:[63.4,86.7,469.6,371.7], xdom:[1976.91,2019.05], ydom:[-3.1,3.12], labels:yearLabels,
   title:[303,28.3,540], sub:[302,47.7,118], eq:[302,66.7,149], ytitle:[35,229,331.7], xtitle:[265.8,408.3,13],
   legend:{varX:541.6,varY:99,l0:486,l1:515.6,mx:501,actY:114.7,fitY:130,tx:522.6,accX:533,accY:159.3,rowX:493,valX:575,rows:[174.3,190,204.7]}},
  {st:small, box:[615,5,1206,432], frame:[672.8,85,1082.5,371.7], xdom:[1977.03,2018.97], ydom:[-3.15,3.2], labels:yearLabels,
   title:[912.6,28.3,517.7], sub:[912,47.7,117], eq:[912,66.7,148.5], ytitle:[643.5,227.5,311.6], xtitle:[876.5,407.3,13],
   legend:{varX:1154,varY:98.3,l0:1101,l1:1130,mx:1115.5,actY:112.7,fitY:128.3,tx:1136.5,accX:1146.7,accY:157.7,rowX:1107,valX:1185,rows:[172.3,187.3,201.7]}},
  {st:small, box:[6,463,601,888], frame:[64.2,544.3,470.8,830], xdom:[1977.0,2019.03], ydom:[-3.37,3.15], labels:yearLabelsPontian,
   title:[303.3,485.7,558], sub:[303,506,119.5], eq:[303,525,149.4], ytitle:[34.2,689.2,348], xtitle:[266.5,867.3,13],
   legend:{varX:542.8,varY:556.7,l0:488,l1:517.5,mx:503,actY:571.7,fitY:587.7,tx:524.5,accX:535,accY:617.3,rowX:494,valX:576.6,rows:[632.3,647.7,662.3]}},
  {st:small, box:[615,463,1206,888], frame:[671.6,539.3,1082.8,835], xdom:[1977.0,2018.93], ydom:[-4.16,5.16], labels:yearLabels,
   title:[905.8,481.7,584.5], sub:[911.6,502.7,116], eq:[911.6,520,151.8], ytitle:[642.6,687,391], xtitle:[876.8,869,13],
   legend:{varX:1152.8,varY:551,l0:1101,l1:1128.4,mx:1114.7,actY:565,fitY:579.3,tx:1134,accX:1147,accY:606.7,rowX:1108,valX:1184.6,rows:[620.7,634,649]}},
  {st:big, box:[88,928,1103,1620], frame:[189.5,1053.3,878.3,1508.3], xdom:[1976.96,2018.94], ydom:[-3.31,2.54], labels:yearLabels,
   title:[594,963,934], sub:[593,995,203], eq:[593,1025,255], ytitle:[137.6,1282,535], xtitle:[531,1568,22],
   legend:{varX:1002.5,varY:1075,l0:908.3,l1:958.3,mx:933.3,actY:1098.3,fitY:1123.3,tx:970,accX:989,accY:1168.3,rowX:921.7,valX:1056.7,rows:[1193.3,1216.7,1240]}}
];

const page = document.getElementById("page");

function addText(txt, x, y, o) {
  const el = document.createElement("div");
  el.className = "t";
  el.textContent = txt;
  el.style.fontSize = o.size + "px";
  el.style.fontWeight = o.weight || 400;
  el.style.color = o.color || "#333";
  page.appendChild(el);
  if (o.width) {
    const w = el.offsetWidth;
    if (w > 0) el.style.fontSize = (o.size * o.width / w).toFixed(2) + "px";
  }
  const tx = o.anchor === "start" ? "0" : o.anchor === "end" ? "-100%" : "-50%";
  el.style.left = x + "px";
  el.style.top = y + "px";
  el.style.transform = `translate(${tx},-50%)` + (o.rotate ? ` rotate(${o.rotate}deg)` : "");
  return el;
}
function addBox(x, y, w, h, css) {
  const el = document.createElement("div");
  el.className = "b";
  el.style.left = x + "px"; el.style.top = y + "px";
  el.style.width = w + "px"; el.style.height = h + "px";
  Object.assign(el.style, css);
  page.appendChild(el);
  return el;
}

layouts.forEach((L, i) => {
  const st = L.st;
  addBox(L.box[0], L.box[1], L.box[2] - L.box[0], L.box[3] - L.box[1], {border: "1px solid #d9d9d9", boxSizing: "border-box"});

  const isBig = st === big;
  addText("Trend Analysis Plot for SPI 12 Month Station " + stations[i], L.title[0], L.title[1], {size: isBig ? 23 : 14, weight: 600, color: "#3b3b3b", width: L.title[2]});
  addText("Linear Trend Model", L.sub[0], L.sub[1], {size: isBig ? 20 : 12, color: "#6a6a6a", width: L.sub[2]});
  addText(equations[i], L.eq[0], L.eq[1], {size: isBig ? 20 : 12, color: "#6a6a6a", width: L.eq[2]});
  addText("SPI 12 Month Station " + stations[i], L.ytitle[0], L.ytitle[1], {size: isBig ? 20 : 13, color: "#444", width: L.ytitle[2], rotate: -90});
  addText("Year", L.xtitle[0], L.xtitle[1], {size: L.xtitle[2], color: "#444"});

  const [fx0, fy0, fx1, fy1] = L.frame;
  const ml = st.ml, mr = 4, mt = 4, mb = st.mb;
  const labelOf = new Map(yearTicks.map((y, k) => [y, L.labels[k]]));
  const data = seriesList[i];
  const fits = [[fitYears[0], fitStart[i]], [fitYears[1], fitEnd[i]]];
  const yt = yTickSets[i];
  const plot = Plot.plot({
    width: fx1 - fx0 + ml + mr,
    height: fy1 - fy0 + mt + mb,
    marginLeft: ml, marginRight: mr, marginTop: mt, marginBottom: mb,
    style: {fontFamily: FONT, fontSize: st.tick + "px", fontWeight: st.tickW, color: "#2b2b2b", background: "transparent", overflow: "visible"},
    x: {type: "linear", domain: L.xdom},
    y: {type: "linear", domain: L.ydom},
    marks: [
      Plot.gridX({ticks: yearTicks, stroke: "#e6e6e6", strokeOpacity: 1}),
      Plot.gridY({ticks: yt, stroke: "#e6e6e6", strokeOpacity: 1}),
      Plot.frame({stroke: "#c4c4c4"}),
      Plot.axisX({ticks: yearTicks, tickFormat: d => labelOf.get(d), tickSize: st.tickSize, tickPadding: st.padX, stroke: "#9a9a9a", label: null}),
      Plot.axisY({ticks: yt, tickFormat: d => String(d), tickSize: st.tickSize, tickPadding: st.padY, stroke: "#9a9a9a", label: null}),
      Plot.line(data, {x: d => d[0], y: d => d[1], stroke: BLUE_LINE, strokeWidth: st.lineW}),
      Plot.dot(data, {x: d => d[0], y: d => d[1], r: st.r, fill: BLUE_DOT, stroke: "none"}),
      Plot.line(fits, {x: d => d[0], y: d => d[1], stroke: RED, strokeWidth: st.fw, strokeLinecap: "butt"})
    ]
  });
  plot.style.position = "absolute";
  plot.style.left = (fx0 - ml) + "px";
  plot.style.top = (fy0 - mt) + "px";
  page.appendChild(plot);

  const g = L.legend, lg = st.leg;
  addText("Variable", g.varX, g.varY, {size: lg.varS, color: "#444"});
  addBox(g.l0, g.actY - lg.lw / 2, g.l1 - g.l0, lg.lw, {background: "#2f6fbf"});
  addBox(g.mx - lg.dot / 2, g.actY - lg.dot / 2, lg.dot, lg.dot, {background: BLUE_DOT, borderRadius: "50%"});
  addText("Actual", g.tx, g.actY, {size: lg.actS, color: "#444", anchor: "start"});
  addBox(g.l0, g.fitY - lg.lw / 2, g.l1 - g.l0, lg.lw * 0.8, {background: "#c25c5c"});
  addBox(g.mx - lg.sq / 2, g.fitY - lg.sq / 2, lg.sq, lg.sq, {background: RED});
  addText("Fits", g.tx, g.fitY, {size: lg.actS, color: "#444", anchor: "start"});
  addText("Accuracy Measures", g.accX, g.accY, {size: lg.accS, color: "#444"});
  ["MAPE", "MAD", "MSD"].forEach((lab, k) => addText(lab, g.rowX, g.rows[k], {size: lg.rowS, color: "#444", anchor: "start"}));
  [mape[i], mad[i], msd[i]].forEach((v, k) => addText(v, g.valX, g.rows[k], {size: lg.rowS, color: "#444", anchor: "end"}));
});
</script>
</body></html>
